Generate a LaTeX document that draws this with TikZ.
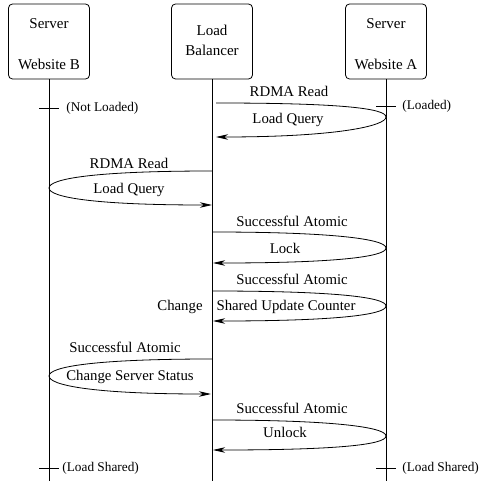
\documentclass[tikz,border=0pt]{standalone}
\usepackage{fontspec}
\setmainfont{Liberation Serif}
\usetikzlibrary{arrows.meta,positioning}

\begin{document}
\begin{tikzpicture}[x=1pt,y=-1pt,line width=0.8pt,
  box/.style={draw,rounded corners=4pt,minimum width=81pt,minimum height=75pt,inner sep=0pt},
  boxtext/.style={font=\fontsize{15}{17}\selectfont},
  msg/.style={font=\fontsize{14.8}{17}\selectfont},
  state/.style={font=\fontsize{13.3}{15}\selectfont,anchor=west,inner sep=0pt},
  reply/.style={-{Stealth[length=12pt,width=5.5pt,inset=3.5pt]}}]
\useasboundingbox (0,0) rectangle (479,481);

% Boxes
\node[box] (srvB) at (49,41.5) {};
\node[boxtext] at (49,24) {Server};
\node[boxtext] at (49,64) {Website B};
\node[box] (lb) at (212,41.5) {};
\node[boxtext] at (212,30) {Load};
\node[boxtext] at (212,50) {Balancer};
\node[box] (srvA) at (386,41.5) {};
\node[boxtext] at (386,24) {Server};
\node[boxtext] at (386,64) {Website A};

% Lifelines
\coordinate (endB) at (49,481);
\coordinate (endLB) at (212,481);
\coordinate (endA) at (386,481);
\draw (srvB.south) -- (endB);
\draw (lb.south) -- (endLB);
\draw (srvA.south) -- (endA);

% States
\draw (39,108) -- (59,108);
\node[state] (notLoaded) at (66,108) {(Not Loaded)};
\draw (376,106) -- (396,106);
\node[state] (loaded) at (402,106) {(Loaded)};
\draw (39,468) -- (59,468);
\node[state] (sharedB) at (62,468) {(Load Shared)};
\draw (376,468) -- (396,468);
\node[state] (sharedA) at (402,468) {(Load Shared)};

% Load query A
\coordinate (q1s) at (216,103);
\coordinate (q1t) at (386,117);
\coordinate (q1e) at (216,137);
\draw[reply] (q1s) .. controls +(120,0) and +(0,-9) .. (q1t) .. controls +(0,9) and +(120,0) .. (q1e);
\node[msg] at (289,91) {RDMA Read};
\node[msg] at (288,120) {Load Query};

% Load query B
\coordinate (q2s) at (212,171);
\coordinate (q2t) at (49,188);
\coordinate (q2e) at (212,205);
\draw[reply] (q2s) .. controls +(-120,0) and +(0,-9) .. (q2t) .. controls +(0,9) and +(-120,0) .. (q2e);
\node[msg] at (129,163) {RDMA Read};
\node[msg] at (129,190) {Load Query};

% Lock
\coordinate (lks) at (212,232);
\coordinate (lkt) at (386,248);
\coordinate (lke) at (213,263);
\draw[reply] (lks) .. controls +(120,0) and +(0,-9) .. (lkt) .. controls +(0,9) and +(120,0) .. (lke);
\node[msg] at (292,221) {Successful Atomic};
\node[msg] at (285,248) {Lock};

% Shared update counter
\coordinate (cts) at (212,291);
\coordinate (ctt) at (386,306);
\coordinate (cte) at (213,321);
\draw[reply] (cts) .. controls +(120,0) and +(0,-9) .. (ctt) .. controls +(0,9) and +(120,0) .. (cte);
\node[msg] at (292,279) {Successful Atomic};
\node[msg] at (286,307) {Shared Update Counter};
\node[msg] at (180,307) {Change};

% Server status
\coordinate (sts) at (212,359);
\coordinate (stt) at (49,376);
\coordinate (ste) at (211,394);
\draw[reply] (sts) .. controls +(-120,0) and +(0,-9) .. (stt) .. controls +(0,9) and +(-120,0) .. (ste);
\node[msg] at (125,347) {Successful Atomic};
\node[msg] at (130,377) {Change Server Status};

% Unlock
\coordinate (uls) at (212,420);
\coordinate (ult) at (386,436);
\coordinate (ule) at (213,450);
\draw[reply] (uls) .. controls +(120,0) and +(0,-9) .. (ult) .. controls +(0,9) and +(120,0) .. (ule);
\node[msg] at (292,408) {Successful Atomic};
\node[msg] at (285,432) {Unlock};
\end{tikzpicture}
\end{document}
